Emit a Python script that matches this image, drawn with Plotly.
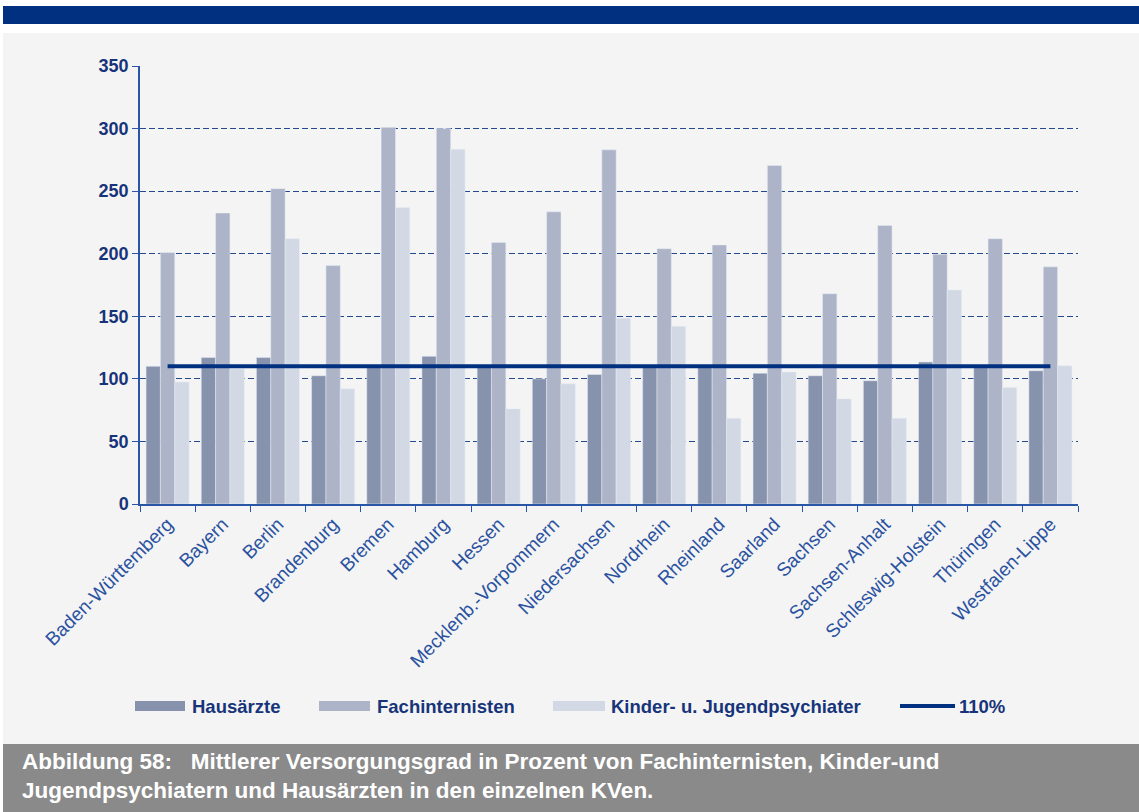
import plotly.graph_objects as go

categories = ["Baden-Württemberg", "Bayern", "Berlin", "Brandenburg", "Bremen", "Hamburg",
              "Hessen", "Mecklenb.-Vorpommern", "Niedersachsen", "Nordrhein", "Rheinland",
              "Saarland", "Sachsen", "Sachsen-Anhalt", "Schleswig-Holstein", "Thüringen",
              "Westfalen-Lippe"]
hausaerzte = [110, 117, 117, 102.5, 110, 118, 110, 100, 103.5, 111, 110, 104.5, 102.5, 98.5, 113.5, 110.5, 106.5]
fachinternisten = [201, 232.5, 252, 190.5, 301, 300, 209, 233.5, 283, 204, 207, 270.5, 168, 222.5, 199.5, 212, 189.5]
kjp = [97.5, 108, 212, 92, 237, 283.5, 76, 96, 148.5, 142, 68.5, 105.5, 84, 68.5, 171, 93, 110.5]
reference = [110] * len(categories)
series_names = ["Hausärzte", "Fachinternisten", "Kinder- u. Jugendpsychiater", "110%"]
y_ticks = [0, 50, 100, 150, 200, 250, 300, 350]

c_h = "#8793ad"
c_f = "#aeb4c7"
c_k = "#d3d9e4"
c_line = "#00307f"
axis_col = "#2a56a6"
navy = "#17347a"
FONT = "Liberation Sans, Arial, sans-serif"

W, H = 1139, 812
L, R, T, B = 140, 61, 66, 308
pw, ph = W - L - R, H - T - B

def px(x):
    return (x - L) / pw

def py(y):
    return (H - B - y) / ph

fig = go.Figure()
fig.add_trace(go.Bar(x=categories, y=hausaerzte, name=series_names[0], marker_color=c_h))
fig.add_trace(go.Bar(x=categories, y=fachinternisten, name=series_names[1], marker_color=c_f))
fig.add_trace(go.Bar(x=categories, y=kjp, name=series_names[2], marker_color=c_k))
fig.add_trace(go.Scatter(x=categories, y=reference, name=series_names[3], mode="lines",
                         line=dict(color=c_line, width=4)))

shapes = [
    dict(type="rect", xref="paper", yref="paper", x0=px(3), x1=px(1139), y0=py(24), y1=py(6),
         fillcolor="#00307f", line_width=0, layer="below"),
    dict(type="rect", xref="paper", yref="paper", x0=px(3), x1=px(1139), y0=py(744), y1=py(33),
         fillcolor="#f4f4f4", line_width=0, layer="below"),
    dict(type="rect", xref="paper", yref="paper", x0=px(3), x1=px(1139), y0=py(812), y1=py(744),
         fillcolor="#8a8a8a", line_width=0, layer="below"),
]

leg_y = 706
legend_items = [
    (135, 185, 190, series_names[0], c_h, "rect"),
    (319, 370, 375, series_names[1], c_f, "rect"),
    (553, 605, 609, series_names[2], c_k, "rect"),
    (900, 955, 957, series_names[3], c_line, "line"),
]
annotations = []
for x0, x1, tx, name, col, kind in legend_items:
    if kind == "rect":
        shapes.append(dict(type="rect", xref="paper", yref="paper", x0=px(x0), x1=px(x1),
                           y0=py(leg_y + 5), y1=py(leg_y - 5), fillcolor=col, line_width=0))
    else:
        shapes.append(dict(type="line", xref="paper", yref="paper", x0=px(x0), x1=px(x1),
                           y0=py(leg_y), y1=py(leg_y), line=dict(color=col, width=4)))
    annotations.append(dict(xref="paper", yref="paper", x=px(tx), y=py(leg_y), text=name,
                            showarrow=False, xanchor="left", yanchor="middle",
                            font=dict(family=FONT, size=18.5, color=navy, weight="bold")))

annotations.append(dict(
    xref="paper", yref="paper", x=px(20), y=py(776), xanchor="left", yanchor="middle", align="left",
    showarrow=False,
    text="Abbildung 58:&nbsp;&nbsp; Mittlerer Versorgungsgrad in Prozent von Fachinternisten, Kinder-und<br>"
         "Jugendpsychiatern und Hausärzten in den einzelnen KVen.",
    font=dict(family=FONT, size=22.5, color="white", weight="bold")))

fig.update_layout(
    width=W, height=H,
    margin=dict(l=L, r=R, t=T, b=B, autoexpand=False),
    paper_bgcolor="white",
    plot_bgcolor="rgba(0,0,0,0)",
    barmode="group", bargap=0.22, bargroupgap=0,
    showlegend=False,
    shapes=shapes,
    annotations=annotations,
    xaxis=dict(
        tickangle=-45, tickson="boundaries", ticks="outside", ticklen=6, tickcolor=axis_col,
        showline=True, linecolor=axis_col, linewidth=1.5, showgrid=False,
        tickfont=dict(family=FONT, size=19, color="#2a52a0"),
        range=[-0.5, len(categories) - 0.5],
    ),
    yaxis=dict(
        range=[0, 350], tickvals=y_ticks, ticks="outside", ticklen=6, tickcolor=axis_col,
        showline=True, linecolor=axis_col, linewidth=1.5,
        showgrid=True, gridcolor="#24488f", gridwidth=1.2, griddash="6px,3px",
        zeroline=False,
        tickfont=dict(family=FONT, size=18, color=navy, weight="bold"),
    ),
)

fig.write_html("out.html", config={"displayModeBar": False},
               post_script="document.body.style.margin='0px';")
